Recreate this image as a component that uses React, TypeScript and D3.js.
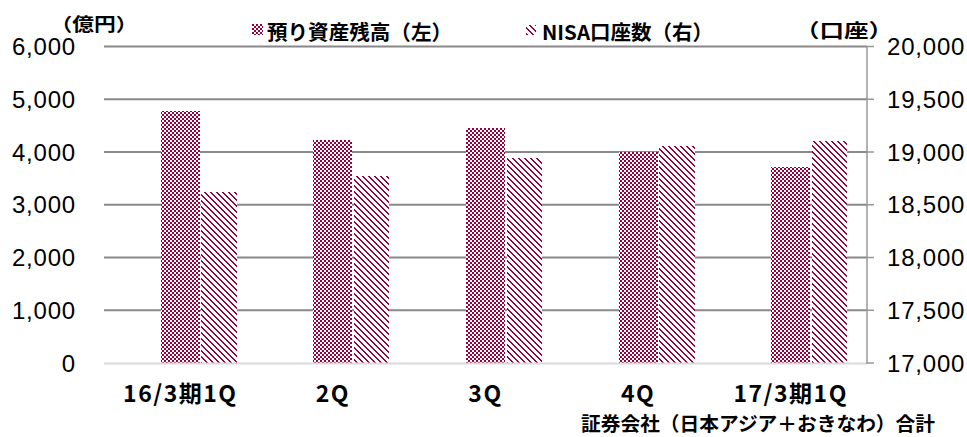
import React from "react";
import * as d3 from "d3";

const categories = ["16/3期1Q", "2Q", "3Q", "4Q", "17/3期1Q"];
const depositBalance = [4782, 4231, 4453, 3991, 3725]; // 億円 (left)
const nisaAccounts = [18625, 18768, 18942, 19059, 19109]; // 口座 (right)
const leftTicks = [0, 1000, 2000, 3000, 4000, 5000, 6000];
const rightTicks = [17000, 17500, 18000, 18500, 19000, 19500, 20000];
const seriesNames = ["預り資産残高（左）", "NISA口座数（右）"];
const leftUnit = "（億円）";
const rightUnit = "（口座）";
const footnote = "証券会社（日本アジア＋おきなわ）合計";

const W = 967;
const H = 437;
const COLOR = "#99003a";
const JP = "'Noto Sans CJK JP', sans-serif";
const NUM = "'Liberation Sans', Arial, sans-serif";

const stripeCells: [number, number][] = [];
for (let r = 0; r < 6; r++) {
  stripeCells.push([r % 6, r]);
  stripeCells.push([(r + 1) % 6, r]);
}

export default function App() {
  const plotLeft = 104;
  const plotRight = 867;
  const plotTop = 46.5;
  const plotBottom = 363;

  const x = d3.scaleBand<string>().domain(categories).range([plotLeft, plotRight]).padding(0);
  const yL = d3.scaleLinear().domain([0, 6000]).range([plotBottom, plotTop]);
  const yR = d3.scaleLinear().domain([17000, 20000]).range([plotBottom, plotTop]);
  const fmt = d3.format(",");
  const cx = (c: string) => (x(c) as number) + x.bandwidth() / 2;

  return (
    <svg
      width={W}
      height={H}
      style={{ position: "absolute", left: 0, top: 0, background: "#fff" }}
    >
      <defs>
        <pattern id="checker" width={4} height={4} patternUnits="userSpaceOnUse">
          <rect width={4} height={4} fill="#fff" />
          <rect x={0} y={0} width={2} height={2} fill={COLOR} />
          <rect x={2} y={2} width={2} height={2} fill={COLOR} />
        </pattern>
        <pattern id="stripe" width={6} height={6} patternUnits="userSpaceOnUse">
          <rect width={6} height={6} fill="#fff" />
          {stripeCells.map(([cx0, cy0], i) => (
            <rect key={i} x={cx0} y={cy0} width={1} height={1} fill={COLOR} />
          ))}
        </pattern>
      </defs>

      {/* gridlines */}
      {leftTicks.filter((t) => t > 0).map((t) => (
        <line key={t} x1={plotLeft} x2={plotRight} y1={yL(t)} y2={yL(t)} stroke="#888" strokeWidth={2} />
      ))}

      {/* bars */}
      {categories.map((c, i) => (
        <g key={c}>
          <rect
            x={cx(c) - 19.5}
            width={39}
            y={yL(depositBalance[i])}
            height={plotBottom - yL(depositBalance[i])}
            fill="url(#checker)"
            shapeRendering="crispEdges"
          />
          <rect
            x={cx(c) + 21}
            width={35.5}
            y={yR(nisaAccounts[i])}
            height={plotBottom - yR(nisaAccounts[i])}
            fill="url(#stripe)"
            shapeRendering="crispEdges"
          />
        </g>
      ))}

      {/* baseline */}
      <line x1={plotLeft} x2={plotRight} y1={plotBottom + 0.5} y2={plotBottom + 0.5} stroke="#d9d9d9" strokeWidth={2} />

      {/* right axis */}
      <line x1={plotRight} x2={plotRight} y1={plotTop} y2={plotBottom + 1} stroke="#999" strokeWidth={1.5} />
      {rightTicks.map((t) => (
        <line key={t} x1={plotRight} x2={plotRight + 7} y1={yR(t)} y2={yR(t)} stroke="#999" strokeWidth={1.5} />
      ))}

      {/* left tick labels */}
      {leftTicks.map((t) => (
        <text
          key={t}
          x={76}
          y={yL(t) + 8.5}
          textAnchor="end"
          fontFamily={NUM}
          fontSize={24}
          letterSpacing={0.8}
          fill="#000"
        >
          {fmt(t)}
        </text>
      ))}

      {/* right tick labels */}
      {rightTicks.map((t) => (
        <text
          key={t}
          x={887}
          y={yR(t) + 8.5}
          textAnchor="start"
          fontFamily={NUM}
          fontSize={24}
          letterSpacing={0.8}
          fill="#000"
        >
          {fmt(t)}
        </text>
      ))}

      {/* category labels */}
      {categories.map((c) => (
        <text
          key={c}
          x={cx(c)}
          y={402}
          textAnchor="middle"
          fontFamily={JP}
          fontWeight="bold"
          fontSize={23}
          letterSpacing={1.5}
          fill="#000"
        >
          {c}
        </text>
      ))}

      {/* units */}
      <text x={50.5} y={31} fontFamily={JP} fontWeight="bold" fontSize={18} textLength={87} lengthAdjust="spacingAndGlyphs" fill="#000">
        {leftUnit}
      </text>
      <text x={795} y={38} fontFamily={JP} fontWeight="bold" fontSize={19} textLength={98} lengthAdjust="spacingAndGlyphs" fill="#000">
        {rightUnit}
      </text>

      {/* legend */}
      <rect x={252} y={24} width={11} height={11} fill="url(#checker)" shapeRendering="crispEdges" />
      <text x={267} y={40} fontFamily={JP} fontWeight="bold" fontSize={20.5} textLength={185} lengthAdjust="spacingAndGlyphs" fill="#000">
        {seriesNames[0]}
      </text>
      <rect x={526} y={25} width={10} height={10} fill="url(#stripe)" shapeRendering="crispEdges" />
      <text x={542} y={40} fontFamily={JP} fontWeight="bold" fontSize={20.5} textLength={171} lengthAdjust="spacingAndGlyphs" fill="#000">
        {seriesNames[1]}
      </text>

      {/* footnote */}
      <text x={581} y={431} fontFamily={JP} fontWeight="bold" fontSize={19.5} textLength={354} lengthAdjust="spacingAndGlyphs" fill="#000">
        {footnote}
      </text>
    </svg>
  );
}
